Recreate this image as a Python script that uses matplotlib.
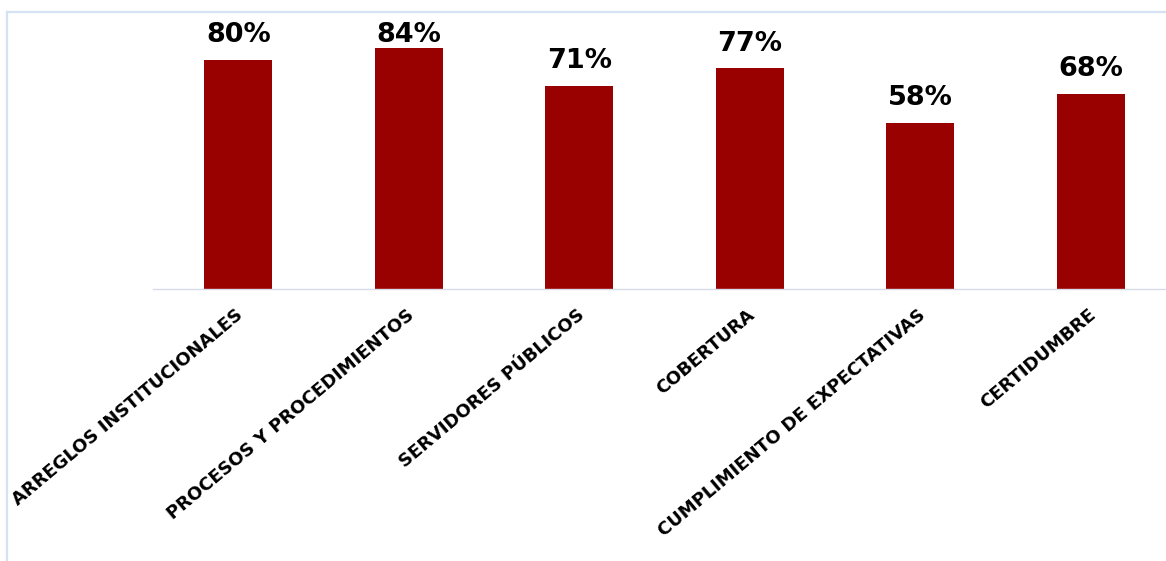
"""Bar chart: percentage per evaluation dimension."""

import matplotlib as mpl
import matplotlib.pyplot as plt
from matplotlib.lines import Line2D
from matplotlib.transforms import ScaledTranslation

categories = [
    "ARREGLOS INSTITUCIONALES",
    "PROCESOS Y PROCEDIMIENTOS",
    "SERVIDORES PÚBLICOS",
    "COBERTURA",
    "CUMPLIMIENTO DE EXPECTATIVAS",
    "CERTIDUMBRE",
]
values = [80, 84, 71, 77, 58, 68]
value_labels = ["80%", "84%", "71%", "77%", "58%", "68%"]

BAR = "#990000"
FRAME = "#D5E2F3"
AXIS = "#D9DCE8"
LABEL_CAP = 80  # labels of taller bars are pushed down to stay inside the plot

mpl.rcParams.update({"font.family": ["DejaVu Sans"]})

W, H = 1166, 561
fig = plt.figure(figsize=(W / 100, H / 100), dpi=100)

# chart frame (only left and top edges fall inside the picture)
fig.add_artist(Line2D([7 / W, 7 / W], [0, 1 - 12 / H], color=FRAME, lw=1.6,
                      transform=fig.transFigure))
fig.add_artist(Line2D([7 / W, 1], [1 - 12 / H, 1 - 12 / H], color=FRAME, lw=1.6,
                      transform=fig.transFigure))

ax = fig.add_axes([153 / W, (H - 289) / H, 1023 / W, 286.5 / H])
ax.set_xlim(-0.5, len(categories) - 0.5)
ax.set_ylim(0, 100)

x = range(len(categories))
bars = ax.bar(x, values, width=0.4, color=BAR, edgecolor="none")

for rect, lab in zip(bars, value_labels):
    ax.annotate(lab, (rect.get_x() + rect.get_width() / 2,
                      min(rect.get_height(), LABEL_CAP)),
                xytext=(0, 8.5), textcoords="offset points",
                ha="center", va="bottom", fontsize=19.5, fontweight="bold",
                color="black")

for side in ("left", "right", "top"):
    ax.spines[side].set_visible(False)
ax.spines["bottom"].set_color(AXIS)
ax.spines["bottom"].set_linewidth(1.0)
ax.set_yticks([])
ax.set_xticks(list(x))
ax.set_xticklabels(categories, rotation=40, ha="right", va="top",
                   rotation_mode="anchor", fontsize=13, fontweight="bold")
ax.tick_params(axis="x", length=0, pad=12)
shift = ScaledTranslation(-3 / 100, 0, fig.dpi_scale_trans)
for t in ax.get_xticklabels():
    t.set_transform(t.get_transform() + shift)

fig.savefig("out.png", dpi=100, facecolor="white")
